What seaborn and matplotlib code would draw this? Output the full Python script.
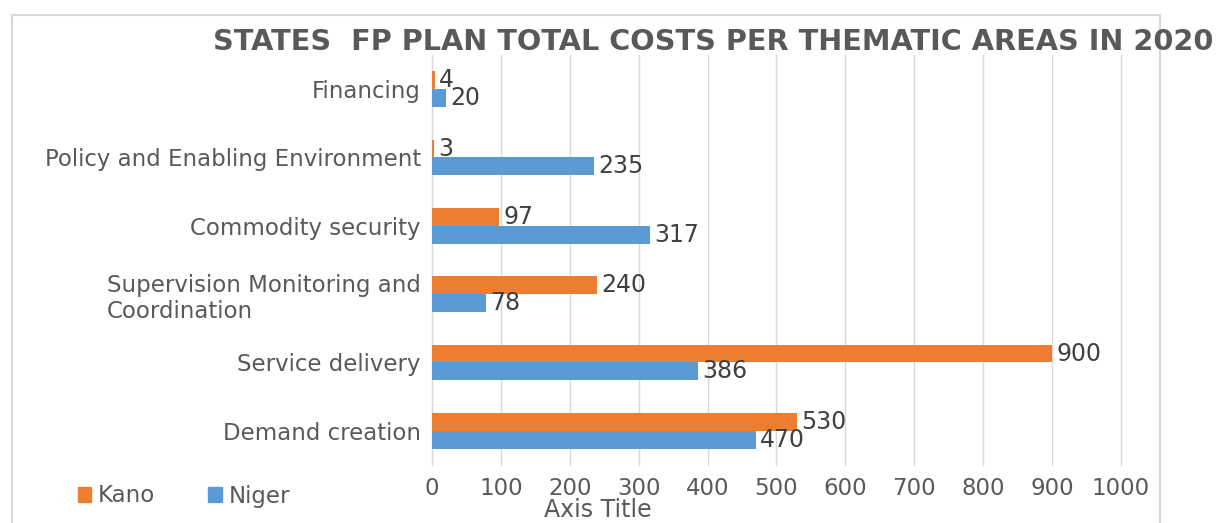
import pandas as pd
import matplotlib.pyplot as plt
import seaborn as sns
from matplotlib.patches import Rectangle, Patch

# data (top to bottom as shown in the chart)
areas = ["Financing", "Policy and Enabling Environment", "Commodity security",
         "Supervision Monitoring and\nCoordination", "Service delivery", "Demand creation"]
kano = [4, 3, 97, 240, 900, 530]
niger = [20, 235, 317, 78, 386, 470]
states = ["Kano", "Niger"]
colors = ["#ED7D31", "#5B9BD5"]

df = pd.DataFrame({"Area": areas * 2,
                   "State": ["Kano"] * len(areas) + ["Niger"] * len(areas),
                   "Cost": kano + niger})

sns.set_style("white")
plt.rcParams['font.family'] = ['DejaVu Sans']

fig = plt.figure(figsize=(12.17, 5.23), dpi=100)
ax = fig.add_axes([0.355, 0.111, 0.566, 0.784])

sns.barplot(data=df, y="Area", x="Cost", hue="State", order=areas, hue_order=states,
            palette=colors, width=0.52, orient="h", ax=ax, legend=False,
            saturation=1, edgecolor="none", linewidth=0)

for cont in ax.containers:
    ax.bar_label(cont, padding=3, fontsize=17, color="#404040")

ax.set_xlim(0, 1000)
ax.set_xticks(range(0, 1001, 100))
ax.grid(axis="x", color="#D9D9D9", linewidth=1)
for gl in ax.get_xgridlines():
    gl.set_clip_on(False)
ax.set_axisbelow(True)
for s in ax.spines.values():
    s.set_visible(False)
ax.tick_params(axis="both", length=0, labelsize=16.5, labelcolor="#595959")
ax.tick_params(axis="x", pad=9)
ax.tick_params(axis="y", pad=8)
for lab in ax.get_yticklabels():
    lab.set_multialignment("left")
ax.set_xlabel("")
ax.set_ylabel("")

# chart frame
fig.patches.append(Rectangle((12 / 1217, -0.05), (1160 - 12) / 1217, 1 - 15 / 523 + 0.05,
                             transform=fig.transFigure, fill=False,
                             edgecolor="#D9D9D9", linewidth=1.5))

fig.text(713 / 1217, 0.92, "STATES  FP PLAN TOTAL COSTS PER THEMATIC AREAS IN 2020",
         ha="center", va="center", fontsize=20.7, fontweight="bold", color="#595959")
fig.text(598 / 1217, 1 - 510 / 523, "Axis Title", ha="center", va="center",
         fontsize=17, color="#595959")

handles = [Patch(color=c, label=s) for s, c in zip(states, colors)]
fig.legend(handles=handles, loc="center left", bbox_to_anchor=(57 / 1217, 1 - 496 / 523),
           ncol=2, frameon=False, fontsize=16.5, labelcolor="#595959",
           handlelength=0.6, handleheight=0.6, handletextpad=0.3, columnspacing=2.3)

plt.savefig("out.png", dpi=100)
